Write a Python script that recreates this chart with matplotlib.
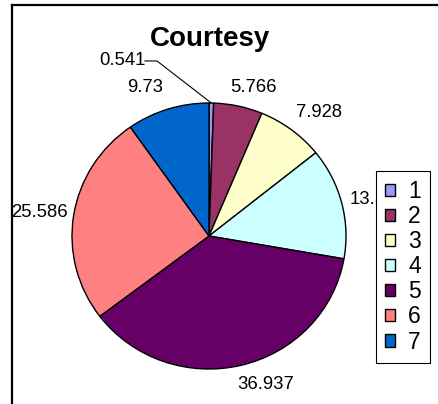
import matplotlib
matplotlib.use("Agg")
import matplotlib.pyplot as plt
import numpy as np
from matplotlib.lines import Line2D

plt.rcParams['font.family'] = ['Liberation Sans', 'DejaVu Sans']

# ---- data ----
categories = ['1', '2', '3', '4', '5', '6', '7']
values = [0.541, 5.766, 7.928, 13.512, 36.937, 25.586, 9.73]
value_labels = ['0.541', '5.766', '7.928', '13.512', '36.937', '25.586', '9.73']
colors = ['#9999FF', '#993366', '#FFFFCC', '#CCFFFF', '#660066', '#FF8080', '#0066CC']
title = 'Courtesy'

W, H = 438, 404
fig = plt.figure(figsize=(W / 100, H / 100), dpi=100)
fig.patch.set_facecolor('white')

# pie geometry in pixels
cx, cy, rx, ry = 209, 236, 137, 133
ax = fig.add_axes([0, 0, 1, 1])

wedges, _ = ax.pie(values, colors=colors, startangle=90, counterclock=False,
                   radius=1, center=(0, 0), frame=True,
                   wedgeprops=dict(edgecolor='black', linewidth=1.0))
ax.set_xlim(-cx / rx, (W - cx) / rx)
ax.set_ylim(-(H - cy) / ry, cy / ry)
ax.set_aspect('auto')
ax.axis('off')

# label positions (pie radius units), alignment
label_pos = [(-0.635, 1.316, 'center'), (0.328, 1.113, 'center'), (0.803, 0.932, 'center'),
             (1.029, 0.278, 'left'), (0.416, -1.120, 'center'), (-1.241, 0.180, 'center'),
             (-0.467, 1.113, 'center')]
for lab, (x, y, ha) in zip(value_labels, label_pos):
    ax.text(x, y, lab, ha=ha, va='center', fontsize=13.3, color='black', zorder=3)

# leader line for the first (tiny) slice
w0 = wedges[0]
mid = np.deg2rad((w0.theta1 + w0.theta2) / 2)
ex, ey = np.cos(mid), np.sin(mid)
lx0 = (145 - cx) / rx
lx1 = (157 - cx) / rx
ly = label_pos[0][1]
ax.plot([lx0, lx1, ex], [ly, ly, ey], color='black', lw=0.8, zorder=3)

# title
fig.text(210 / W, 1 - 39 / H, title, ha='center', va='center', fontsize=20,
         fontweight='bold', color='black')

# chart-area frame (left and top edges visible)
fig.add_artist(Line2D([11.5 / W, 11.5 / W], [0, 1 - 4.5 / H], transform=fig.transFigure,
                      color='black', lw=1.6))
fig.add_artist(Line2D([11.5 / W, 1], [1 - 4.5 / H, 1 - 4.5 / H], transform=fig.transFigure,
                      color='black', lw=1.6))

# legend
leg = fig.legend(wedges, categories, loc='upper left',
                 bbox_to_anchor=(376 / W, 1 - 171 / H), borderaxespad=0,
                 fontsize=16.5, frameon=True, fancybox=False, shadow=False,
                 framealpha=1, labelspacing=0.09, handlelength=0.45, handleheight=0.45,
                 handletextpad=0.55, borderpad=0.4)
leg.get_frame().set_edgecolor('black')
leg.get_frame().set_linewidth(0.8)
leg.get_frame().set_facecolor('white')
leg.set_zorder(10)

fig.savefig('out.png', dpi=100, facecolor='white')
